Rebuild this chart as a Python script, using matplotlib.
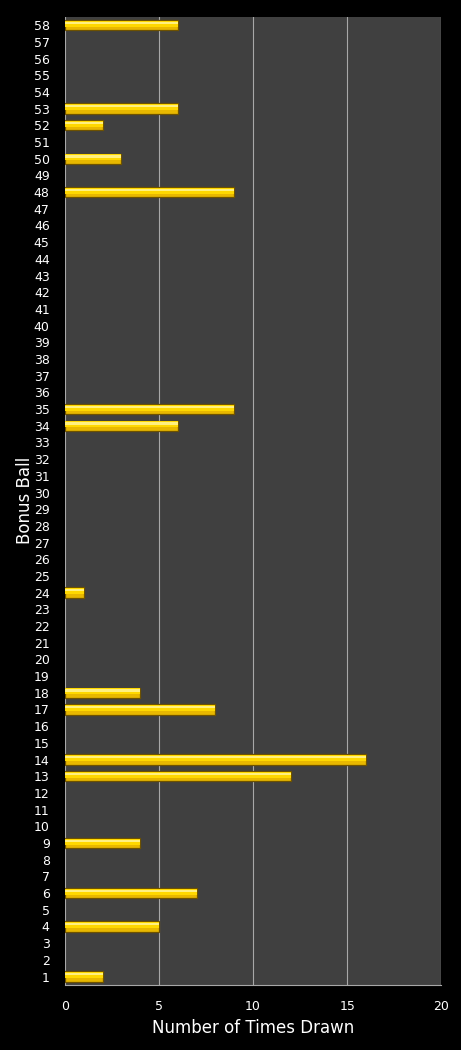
import numpy as np
import matplotlib.pyplot as plt

balls = np.arange(1, 59)
drawn_balls = [1, 4, 6, 9, 13, 14, 17, 18, 24, 34, 35, 48, 50, 52, 53, 58]
drawn_counts = [2, 5, 7, 4, 12, 16, 8, 4, 1, 6, 9, 9, 3, 2, 6, 6]

counts = np.zeros(len(balls))
for b, c in zip(drawn_balls, drawn_counts):
    counts[b - 1] = c
mask = counts > 0

fig = plt.figure(figsize=(4.61, 10.5), dpi=100, facecolor='black')
ax = fig.add_axes([0.141, 0.062, 0.816, 0.922])
ax.set_facecolor('#404040')

# bar body with dark edge, plus lighter bands to fake the gradient
ax.barh(balls[mask], counts[mask], height=0.62, color='#E8B800', edgecolor='#6e5200', linewidth=0.9, zorder=3)
ax.barh(balls[mask] + 0.08, counts[mask], height=0.36, color='#FFD800', linewidth=0, zorder=4)
ax.barh(balls[mask] + 0.14, counts[mask], height=0.14, color='#FFF080', linewidth=0, zorder=5)

ax.set_xlim(0, 20)
ax.set_ylim(0.5, 58.5)
ax.set_xticks([0, 5, 10, 15, 20])
ax.set_yticks(balls)
ax.set_yticklabels([str(b) for b in balls])
ax.grid(axis='x', color='#a8a8a8', linewidth=0.8, zorder=0)
ax.tick_params(colors='white', labelsize=9, length=0, pad=11)
ax.tick_params(axis='y', pad=11)
for s in ['top', 'right', 'left']:
    ax.spines[s].set_visible(False)
ax.spines['bottom'].set_color('#a8a8a8')

ax.set_xlabel('Number of Times Drawn', color='white', fontsize=12, labelpad=4)
ax.set_ylabel('Bonus Ball', color='white', fontsize=12)
ax.yaxis.set_label_coords(-0.082, 0.5)

fig.savefig('out.png', dpi=100, facecolor='black')
